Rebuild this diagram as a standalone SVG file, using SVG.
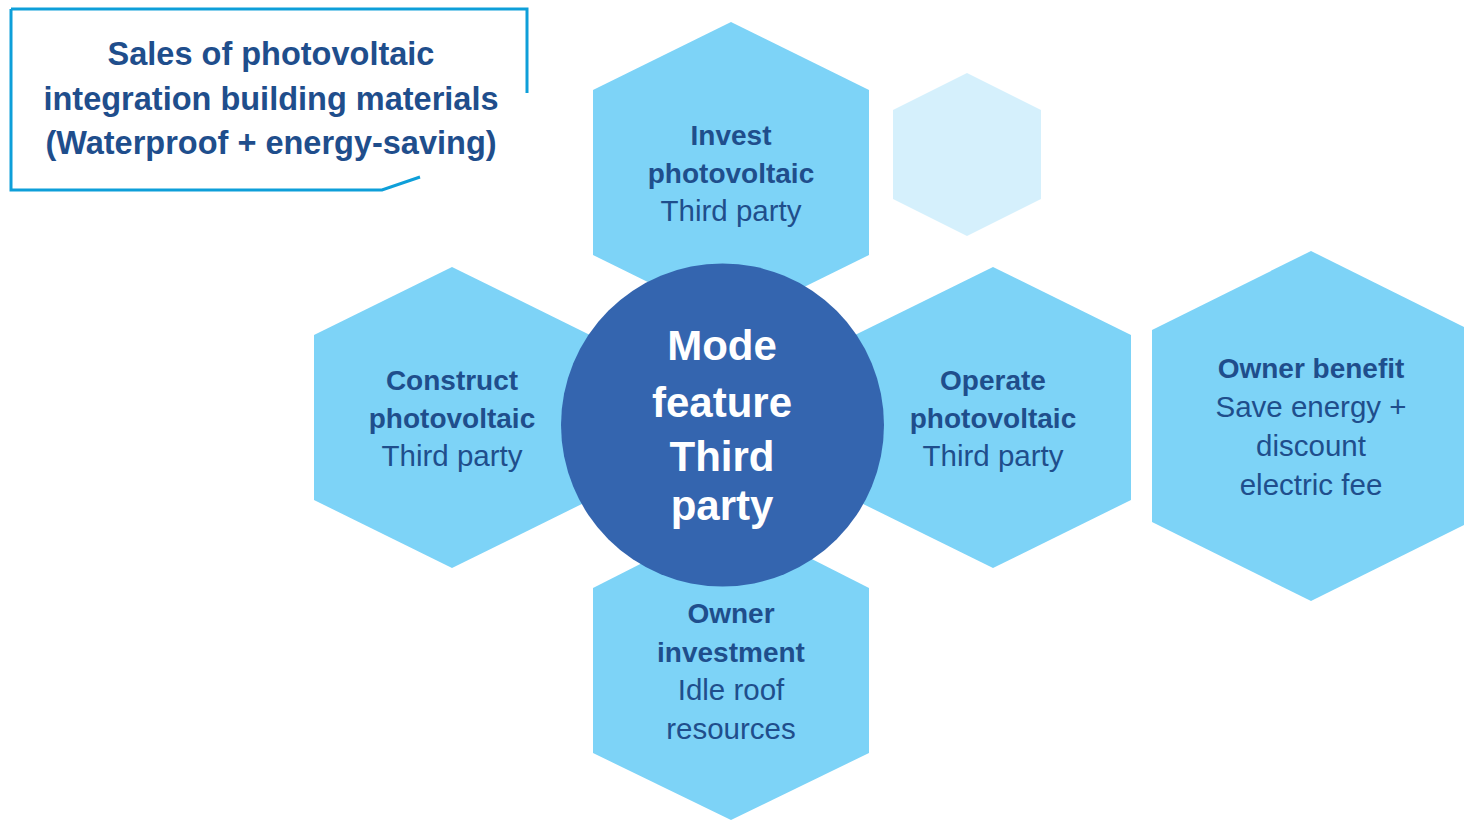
<svg xmlns="http://www.w3.org/2000/svg" width="1464" height="821" viewBox="0 0 1464 821">
<style>
.hex{fill:#7DD3F7}
.hexl{fill:#D5F0FC}
.t{font-family:"Liberation Sans",Arial,sans-serif;fill:#1F4E8C;text-anchor:middle}
.b{font-weight:bold;font-size:28px}
.r{font-size:29.5px}
.title{font-family:"Liberation Sans",Arial,sans-serif;fill:#1F4E8C;text-anchor:middle;font-weight:bold;font-size:32.5px}
.c{font-family:"Liberation Sans",Arial,sans-serif;fill:#FFFFFF;text-anchor:middle;font-weight:bold;font-size:42px}
</style>
<rect width="1464" height="821" fill="#FFFFFF"/>
<g id="title">
<path d="M11,9 H527 V93 M11,9 V190 H382 L420,177" fill="none" stroke="#0E9FD9" stroke-width="3"/>
<text class="title" x="271" y="65">Sales of photovoltaic</text>
<text class="title" x="271" y="110">integration building materials</text>
<text class="title" x="271" y="154">(Waterproof + energy-saving)</text>
</g>
<g id="decor-hex">
<polygon class="hexl" points="967,73 1041,110 1041,199 967,236 893,199 893,110"/>
</g>
<g id="invest">
<polygon class="hex" points="731,22 869,90 869,255 731,323 593,255 593,90"/>
<text class="t b" x="731" y="145">Invest</text>
<text class="t b" x="731" y="183">photovoltaic</text>
<text class="t r" x="731" y="221">Third party</text>
</g>
<g id="construct">
<polygon class="hex" points="452,267 590,335 590,500 452,568 314,500 314,335"/>
<text class="t b" x="452" y="390">Construct</text>
<text class="t b" x="452" y="428">photovoltaic</text>
<text class="t r" x="452" y="466">Third party</text>
</g>
<g id="operate">
<polygon class="hex" points="993,267 1131,335 1131,500 993,568 855,500 855,335"/>
<text class="t b" x="993" y="390">Operate</text>
<text class="t b" x="993" y="428">photovoltaic</text>
<text class="t r" x="993" y="466">Third party</text>
</g>
<g id="owner-investment">
<polygon class="hex" points="731,518 869,588 869,753 731,820 593,753 593,588"/>
<text class="t b" x="731" y="623">Owner</text>
<text class="t b" x="731" y="662">investment</text>
<text class="t r" x="731" y="700">Idle roof</text>
<text class="t r" x="731" y="739">resources</text>
</g>
<g id="owner-benefit">
<polygon class="hex" points="1311,251 1470,330 1470,522 1311,601 1152,522 1152,330"/>
<text class="t b" x="1311" y="378">Owner benefit</text>
<text class="t r" x="1311" y="417">Save energy +</text>
<text class="t r" x="1311" y="456">discount</text>
<text class="t r" x="1311" y="495">electric fee</text>
</g>
<g id="center">
<circle cx="722.5" cy="425" r="161.5" fill="#3465AF"/>
<text class="c" x="722" y="360">Mode</text>
<text class="c" x="722" y="417">feature</text>
<text class="c" x="722" y="471">Third</text>
<text class="c" x="722" y="520">party</text>
</g>
<g id="connectors"/>
</svg>
